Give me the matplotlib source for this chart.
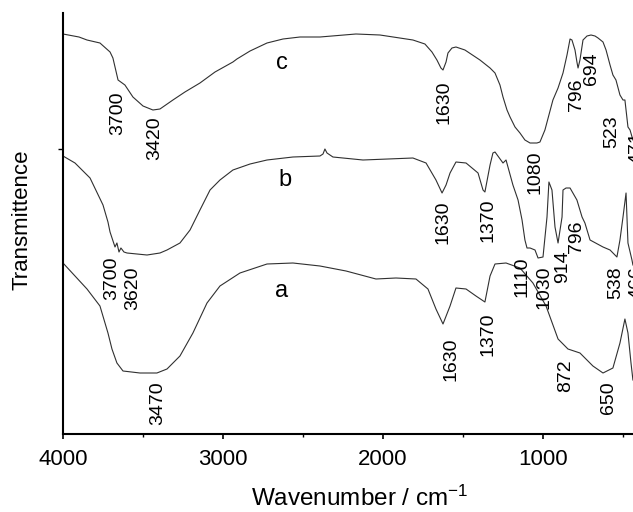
import matplotlib
matplotlib.use('Agg')
import matplotlib.pyplot as plt

plt.rcParams['font.family'] = ['Liberation Sans', 'DejaVu Sans']
plt.rcParams['mathtext.default'] = 'regular'

# ---- data (wavenumber in cm^-1, transmittance in arbitrary offset units) ----
wn_c = [4000, 3900, 3850, 3769, 3706, 3688, 3656, 3613, 3563, 3500, 3438, 3394, 3313, 3238,
        3144, 3050, 2938, 2913, 2831, 2725, 2625, 2519, 2394, 2169, 2019, 1813, 1738, 1694,
        1663, 1638, 1625, 1606, 1594, 1569, 1544, 1488, 1394, 1331, 1300, 1269, 1250, 1225,
        1206, 1175, 1144, 1113, 1081, 1038, 1019, 988, 938, 906, 875, 850, 831, 819, 800,
        788, 781, 769, 750, 725, 700, 675, 656, 625, 606, 581, 563, 544, 519, 500, 488, 469,
        456, 438]
t_c = [400, 397, 394, 391, 382, 376, 354, 349, 337, 328, 324, 325, 334, 342,
       351, 362, 372, 375, 383, 391, 395, 397, 397, 400, 399, 394, 390, 382,
       374, 366, 364, 372, 381, 386, 387, 384, 374, 366, 361, 349, 337, 324,
       317, 307, 301, 294, 291, 291, 292, 304, 334, 346, 361, 379, 395, 394, 384,
       372, 366, 374, 394, 398, 399, 398, 396, 392, 384, 369, 359, 354, 339, 334, 334, 307,
       304, 294]

wn_b = [4000, 3925, 3831, 3750, 3719, 3706, 3675, 3663, 3650, 3638, 3619, 3600, 3475, 3394,
        3350, 3269, 3206, 3144, 3081, 3019, 2938, 2831, 2725, 2563, 2394, 2375, 2363, 2350,
        2313, 2125, 1813, 1731, 1669, 1631, 1606, 1581, 1544, 1481, 1406, 1375, 1363, 1331,
        1313, 1300, 1250, 1231, 1188, 1156, 1131, 1113, 1100, 1081, 1050, 1031, 1000, 975,
        963, 944, 925, 906, 881, 875, 856, 831, 788, 756, 738, 706, 625, 581, 538, 519, 500,
        481, 469, 444, 438]
t_b = [278, 271, 256, 229, 212, 202, 187, 191, 182, 186, 182, 181, 179, 181,
       184, 191, 204, 224, 244, 254, 264, 270, 274, 277, 278, 280, 285, 281,
       277, 274, 276, 271, 254, 241, 249, 261, 272, 271, 261, 244, 242, 269,
       281, 282, 271, 274, 249, 234, 214, 194, 186, 186, 184, 176, 177, 217,
       252, 244, 207, 191, 217, 244, 246, 246, 234, 217, 211, 194, 187, 184, 177, 194, 217,
       241, 191, 174, 169]

wn_a = [4000, 3850, 3769, 3719, 3694, 3663, 3625, 3519, 3413, 3350, 3269, 3188, 3100, 3019,
        2894, 2725, 2563, 2394, 2231, 2044, 1919, 1794, 1719, 1669, 1625, 1581, 1544, 1481,
        1419, 1363, 1331, 1300, 1231, 1144, 1063, 981, 906, 844, 769, 688, 625, 563, 519,
        488, 469, 450, 438]
t_a = [171, 145, 128, 101, 85, 71, 63, 61, 61, 65, 78, 101, 131, 148,
       161, 170, 171, 168, 163, 155, 156, 155, 145, 125, 110, 128, 146, 145,
       138, 132, 158, 170, 171, 166, 151, 128, 95, 85, 81, 68, 61, 66, 91,
       115, 101, 71, 54]

# peak annotations: text, x (cm^-1), y (a.u.)
peak_text = ['3700', '3420', '1630', '1080', '796', '694', '523', '471',
             '3700', '3620', '1630', '1370', '1110', '1030', '914', '796', '538', '466',
             '3470', '1630', '1370', '872', '650']
peak_x = [3656, 3425, 1619, 1050, 788, 694, 569, 413,
          3694, 3563, 1625, 1344, 1131, 994, 875, 788, 544, 413,
          3406, 1575, 1344, 856, 588]
peak_y = [321, 296, 332, 262, 339, 365, 302, 286,
          156, 146, 212, 214, 157, 147, 167, 197, 151, 151,
          31, 75, 100, 58, 36]

curve_names = ['c', 'b', 'a']
curve_name_x = [2631, 2613, 2631]
curve_name_y = [371, 254, 143]

major_ticks = [4000, 3000, 2000, 1000]
major_labels = ['4000', '3000', '2000', '1000']
minor_ticks = [3500, 2500, 1500, 500]

# ---- figure ----
fig = plt.figure(figsize=(6.33, 5.12), dpi=100)
ax = fig.add_axes([63 / 633, 78 / 512, 576 / 633, 421 / 512])

line_color = '#303030'
for wn, t in [(wn_c, t_c), (wn_b, t_b), (wn_a, t_a)]:
    ax.plot(wn, t, color=line_color, lw=0.8)

for txt, x, y in zip(peak_text, peak_x, peak_y):
    ax.text(x, y, txt, rotation=90, ha='center', va='center', fontsize=14, color='black')

for txt, x, y in zip(curve_names, curve_name_x, curve_name_y):
    ax.text(x, y, txt, ha='center', va='center', fontsize=17, color='black')

ax.set_xlim(4000, 400)
ax.set_ylim(0, 421)

for s in ['top', 'right']:
    ax.spines[s].set_visible(False)
for s in ['left', 'bottom']:
    ax.spines[s].set_linewidth(1.5)

ax.set_xticks(major_ticks)
ax.set_xticklabels(major_labels, fontsize=16)
ax.set_xticks(minor_ticks, minor=True)
ax.tick_params(axis='x', which='major', direction='out', length=3.6, width=1.2, pad=7)
ax.tick_params(axis='x', which='minor', direction='out', length=2.2, width=1.0)
ax.set_yticks([285])
ax.set_yticklabels([])
ax.tick_params(axis='y', direction='out', length=3.6, width=1.0)

fig.text(22 / 633, 1 - 220 / 512, 'Transmittence', rotation=90, fontsize=16,
         ha='center', va='center')
fig.text(360 / 633, 1 - 498 / 512, 'Wavenumber / cm$^{-1}$', fontsize=17.5,
         ha='center', va='center')

fig.savefig('out.png', dpi=100)
